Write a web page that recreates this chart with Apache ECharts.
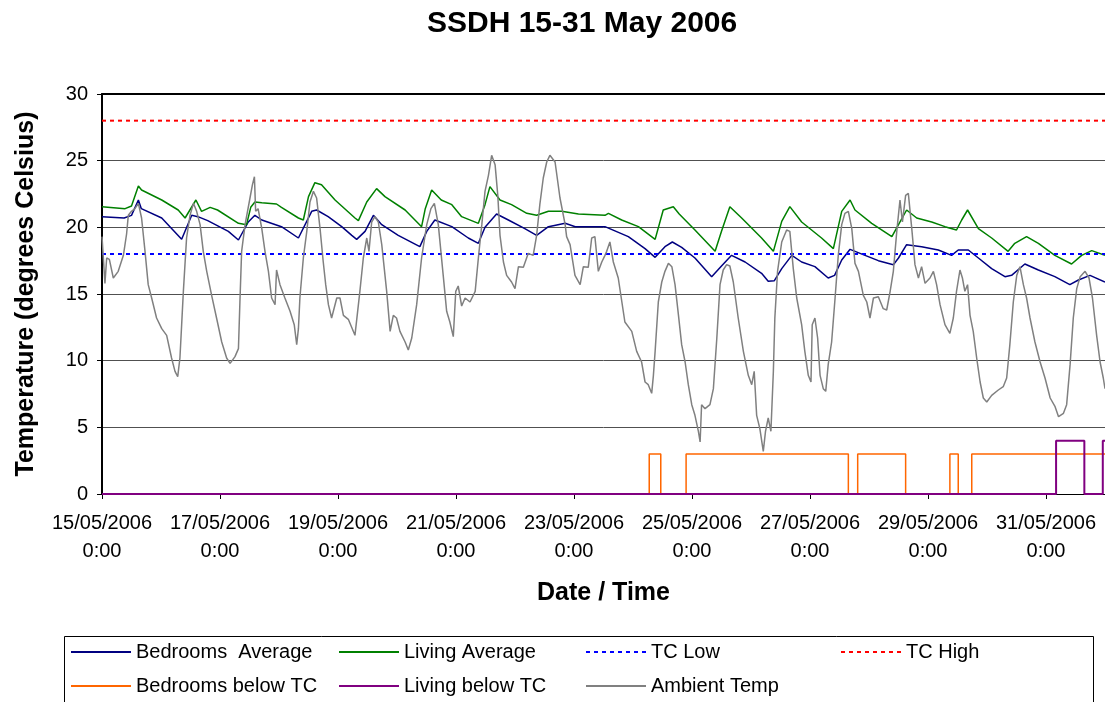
<!DOCTYPE html>
<html>
<head>
<meta charset="utf-8">
<title>SSDH 15-31 May 2006</title>
<script src="https://cdn.jsdelivr.net/npm/echarts@6/dist/echarts.min.js"></script>
<style>
  html, body { margin: 0; padding: 0; background: #fff; }
  #chart { width: 1105px; height: 702px; }
</style>
</head>
<body>
<div id="chart"></div>
<script>
// x values are hours since 15/05/2006 0:00
const FONT = "'Liberation Sans', Arial, sans-serif"

const tickLabels = [
  '15/05/2006\n0:00', '17/05/2006\n0:00', '19/05/2006\n0:00', '21/05/2006\n0:00',
  '23/05/2006\n0:00', '25/05/2006\n0:00', '27/05/2006\n0:00', '29/05/2006\n0:00',
  '31/05/2006\n0:00'
]

const tcLow = 18
const tcHigh = 28
const periodEnd = 408

const bedroomsAvg = [
  [0, 20.8], [9, 20.7], [12, 20.9], [14.8, 22.05], [16, 21.4], [24.3, 20.7], [32.4, 19.1],
  [36.5, 20.9], [39, 20.8], [43, 20.5], [51.4, 19.7], [55.5, 19.05], [59.5, 20.4], [62.2, 20.9],
  [65, 20.55], [73, 20.05], [79.9, 19.2], [85.3, 21.2], [87.3, 21.3], [92, 20.8], [97.5, 20.05],
  [101.6, 19.4], [103.6, 19.1], [107, 19.7], [110.4, 20.9], [113.8, 20.2], [120.5, 19.4],
  [129.3, 18.55], [132.1, 19.7], [135.4, 20.55], [142.3, 20.05], [149, 19.2], [153.1, 18.8],
  [155.8, 20.0], [160.5, 21.0], [165.3, 20.55], [172, 19.9], [176.8, 19.4], [181.6, 20.05],
  [188.4, 20.3], [192.5, 20.05], [204.6, 20.05], [214.1, 19.3], [220.9, 18.4], [225, 17.75],
  [229, 18.55], [232, 18.9], [235.8, 18.5], [241.2, 17.7], [248, 16.3], [252, 17.1], [256.1, 17.9],
  [261.6, 17.4], [268.3, 16.55], [271, 15.95], [273.5, 16.0], [276.5, 16.9], [280.6, 17.9],
  [284.6, 17.4], [290, 17.05], [295.4, 16.2], [298, 16.4], [300.9, 17.55], [304.3, 18.35],
  [310.4, 17.9], [315.8, 17.5], [321.9, 17.2], [324, 17.7], [327.3, 18.7], [333.4, 18.55],
  [340.2, 18.3], [345.6, 17.9], [348.3, 18.3], [352.4, 18.3], [356.5, 17.7], [361.9, 16.9],
  [367.3, 16.3], [370, 16.4], [375.4, 17.25], [380.9, 16.8], [387.6, 16.3], [393.7, 15.7],
  [397.2, 16.05], [401.9, 16.4], [408, 15.9]
]

const livingAvg = [
  [0, 21.55], [9.4, 21.4], [12, 21.6], [14.8, 23.1], [16.1, 22.8], [24.3, 22.05], [31, 21.3],
  [33.8, 20.7], [38.2, 22.05], [40.5, 21.2], [44, 21.5], [47, 21.3], [55.5, 20.3], [58.8, 20.2],
  [60.5, 21.5], [62.2, 21.9], [65, 21.85], [71, 21.75], [73, 21.5], [79.9, 20.7], [81.9, 20.55],
  [84, 22.3], [86.6, 23.35], [89.3, 23.2], [94.8, 22.05], [102.9, 20.7], [104.3, 20.5],
  [107.7, 21.9], [111.7, 22.9], [115.1, 22.3], [123.3, 21.3], [130, 20.05], [131.5, 21.4],
  [134.1, 22.8], [138, 22.05], [142.3, 21.7], [146.3, 20.8], [153.1, 20.3], [155.8, 21.7],
  [157.8, 23.05], [161.9, 22.05], [166.6, 21.7], [172.8, 21.05], [176.8, 20.9], [181.6, 21.2],
  [187, 21.2], [193.8, 21.0], [204.6, 20.9], [206, 21.05], [211.4, 20.55], [218.2, 20.05],
  [225, 19.1], [228.3, 21.3], [232.4, 21.55], [234.8, 21.0], [241.2, 19.8], [249.4, 18.2],
  [252, 19.7], [255.4, 21.55], [260.2, 20.7], [268.3, 19.2], [273.1, 18.2], [276.5, 20.45],
  [279.8, 21.55], [284.6, 20.4], [292.7, 19.2], [297.5, 18.4], [300.9, 21.2], [304.3, 22.05],
  [306.3, 21.3], [313.1, 20.3], [321.3, 19.3], [324, 20.2], [327.3, 21.3], [331.4, 20.7],
  [337.5, 20.4], [342.9, 20.05], [347.6, 19.8], [349.7, 20.55], [352.1, 21.3], [356.5, 19.9],
  [361.9, 19.2], [368.6, 18.2], [371.3, 18.8], [376.1, 19.3], [380.9, 18.8], [387.6, 17.9],
  [394.4, 17.25], [398.5, 17.9], [402.6, 18.25], [408, 17.9]
]

// on / off switching points, each value holds until the next point
const bedroomsBelow = [
  [0, 0], [222.6, 3], [227.3, 0], [237.6, 3], [303.6, 0], [307.4, 3], [326.9, 0],
  [344.9, 3], [348.3, 0], [353.8, 3], [408, 3]
]
const livingBelow = [
  [0, 0], [388.1, 4], [399.6, 0], [407.1, 4], [408, 4]
]

const ambient = [
  [0, 19.3], [1.2, 15.8], [1.9, 17.7], [3, 17.6], [4.6, 16.2], [6.6, 16.7], [8.7, 17.9], [10, 19.5],
  [10.7, 20.9], [12, 21.2], [13.4, 21.4], [14.8, 21.8], [16.1, 20.7], [17.5, 18.2], [18.8, 15.7],
  [20.2, 14.7], [22.2, 13.2], [24.3, 12.4], [26.3, 11.9], [28.3, 10.2], [29.7, 9.2], [30.8, 8.8],
  [31.7, 10.2], [32.4, 12.7], [33.1, 15.2], [34.4, 19.2], [35.8, 20.9], [37.2, 21.8], [38.5, 21.2],
  [39.9, 20.2], [41.2, 18.2], [42.6, 16.7], [44.6, 14.9], [46.6, 13.2], [48.7, 11.4], [50.7, 10.2],
  [52.1, 9.8], [54.1, 10.3], [55.5, 10.9], [56.1, 14.4], [56.8, 18.2], [58.2, 20.2], [60.2, 22.2],
  [61.2, 23.2], [62, 23.8], [62.5, 21.2], [63.5, 21.4], [65, 19.9], [66.3, 18.2], [67.7, 16.7],
  [69, 14.7], [70.4, 14.2], [71, 16.8], [72.4, 15.7], [74.4, 14.7], [76.5, 13.7], [78.2, 12.7],
  [79.2, 11.2], [79.9, 12.4], [80.5, 14.7], [81.9, 17.7], [83.3, 19.7], [84.6, 21.9], [86, 22.7],
  [87.3, 22.2], [88.7, 19.9], [90, 17.4], [91, 15.7], [92.1, 14.2], [93.4, 13.2], [95.5, 14.7],
  [96.8, 14.7], [98.2, 13.4], [100.2, 13.1], [102.9, 11.9], [104.9, 15.2], [106.3, 17.7],
  [107.7, 19.2], [108.6, 18.2], [109.7, 20.4], [111, 20.8], [112.4, 20.4], [113.8, 18.7],
  [115.8, 15.2], [117.2, 12.2], [118.5, 13.4], [119.8, 13.2], [121.2, 12.2], [123.3, 11.4],
  [124.6, 10.8], [126, 11.7], [128, 14.2], [130, 17.7], [132.1, 20.2], [133.8, 21.4], [135.2, 21.8],
  [136.8, 20.2], [138.8, 16.4], [140.2, 13.7], [141.5, 12.9], [142.9, 11.8], [143.9, 15.2],
  [144.9, 15.6], [146.3, 14.1], [147.7, 14.7], [149.7, 14.4], [151.8, 15.2], [153.1, 17.7],
  [154.5, 20.2], [155.8, 22.7], [157.2, 23.9], [158.5, 25.4], [159.9, 24.7], [161, 22.4],
  [161.9, 19.4], [163.3, 17.4], [164.6, 16.4], [166.6, 15.9], [168, 15.4], [169.4, 17.05],
  [171.4, 17.0], [173.4, 18.05], [175.4, 17.9], [176.8, 19.4], [178.1, 21.7], [179.5, 23.7],
  [180.9, 24.9], [182.2, 25.4], [184.3, 24.9], [186.3, 22.2], [188.4, 20.2], [189, 19.3],
  [190.4, 18.7], [192.4, 16.4], [194.5, 15.7], [195.8, 17.05], [197.8, 17.0], [199.2, 19.2],
  [200.5, 19.3], [201.9, 16.7], [203.3, 17.4], [204.6, 17.9], [205.3, 18.2], [206.6, 18.9],
  [208, 17.4], [210, 16.2], [212.7, 12.9], [215.5, 12.2], [217.5, 10.7], [219.5, 9.9], [220.9, 8.4],
  [222.2, 8.2], [223.6, 7.55], [224.3, 8.9], [225, 10.7], [226.3, 14.4], [227.7, 15.9], [229, 16.7],
  [230.4, 17.3], [231.8, 17.05], [233.1, 15.7], [234.5, 13.4], [235.8, 11.2], [237.2, 9.9],
  [238.5, 8.2], [239.9, 6.7], [241.2, 5.9], [242.6, 4.7], [243.3, 3.9], [243.9, 6.7], [245.3, 6.4],
  [247.3, 6.7], [248.7, 7.9], [250.1, 11.7], [251.4, 15.7], [252.7, 16.8], [254.1, 17.2],
  [255.4, 17.1], [256.8, 15.9], [258.8, 13.2], [260.9, 10.7], [262.9, 8.9], [264.3, 8.2],
  [265.3, 9.2], [266.3, 5.9], [267.6, 4.9], [269, 3.2], [269.9, 4.7], [271, 5.7], [272.1, 4.7],
  [273.1, 9.2], [273.7, 13.2], [274.8, 16.7], [276.5, 18.9], [278.5, 19.8], [279.8, 19.7],
  [281.2, 16.9], [282.6, 14.7], [284.6, 12.7], [285.9, 10.7], [287.3, 8.9], [288.4, 8.4],
  [288.9, 12.7], [290, 13.2], [291.1, 11.7], [292.1, 8.9], [293.4, 7.9], [294.4, 7.7], [295.4, 9.7],
  [296.8, 11.4], [298.2, 14.7], [299.5, 17.9], [300.9, 20.2], [302.2, 21.05], [303.6, 21.2],
  [305, 19.9], [306.3, 17.3], [307.7, 16.7], [309.7, 14.9], [311.1, 14.4], [312.4, 13.2],
  [313.8, 14.7], [315.8, 14.8], [317.8, 13.9], [319.2, 13.8], [320.6, 15.2], [321.9, 16.7],
  [323.3, 19.7], [324.6, 22.05], [325.6, 20.4], [326.9, 22.4], [328, 22.55], [329.4, 19.9],
  [330.7, 17.2], [332.1, 16.2], [333.4, 17.05], [334.8, 15.8], [336.8, 16.2], [338.2, 16.7],
  [339.5, 15.7], [340.9, 14.2], [342.9, 12.7], [344.9, 12.05], [346.3, 13.2], [347.6, 15.2],
  [349, 16.8], [350, 16.2], [351, 15.2], [352.1, 15.7], [353.1, 13.4], [354.4, 12.2], [355.8, 10.2],
  [357.2, 8.4], [358.5, 7.2], [359.9, 6.9], [361.9, 7.4], [364.6, 7.8], [366.6, 8.05], [368, 8.7],
  [369.3, 11.2], [370.7, 14.4], [372.1, 16.4], [373.4, 17.05], [374.8, 15.7], [376.1, 14.7],
  [377.5, 13.2], [379.5, 11.4], [381.6, 9.9], [383.6, 8.7], [385.7, 7.2], [387.7, 6.55],
  [389.1, 5.8], [391.1, 6.05], [392.4, 6.7], [393.8, 9.7], [395.1, 13.2], [396.5, 15.4],
  [397.9, 16.3], [399.9, 16.7], [401.5, 16.2], [402.9, 14.7], [404.6, 11.9], [406, 9.9],
  [407.3, 8.7], [408, 7.9]
]

const chart = echarts.init(document.getElementById('chart'))

const lineSeries = (name, data, color, extra) => Object.assign({
  name: name,
  type: 'line',
  data: data,
  symbol: 'none',
  lineStyle: { color: color, width: 1.5 },
  itemStyle: { color: color }
}, extra)

const legendBase = {
  orient: 'vertical',
  top: 642,
  padding: 0,
  itemWidth: 60,
  itemHeight: 20,
  itemGap: 14,
  selectedMode: false,
  // hide the marker dot, keep only the line sample
  itemStyle: { opacity: 0, borderWidth: 0 },
  textStyle: { fontSize: 20, fontFamily: FONT, color: '#000', lineHeight: 20 }
}

const option = {
  animation: false,
  backgroundColor: '#fff',
  textStyle: { fontFamily: FONT },
  title: {
    text: 'SSDH 15-31 May 2006',
    left: 427,
    top: 9,
    padding: 0,
    textStyle: { fontSize: 30, fontWeight: 'bold', fontFamily: FONT, color: '#000' }
  },
  grid: { left: 102, top: 94, right: 0, bottom: 208 },
  legend: [
    Object.assign({}, legendBase, { left: 70, data: ['Bedrooms  Average', 'Bedrooms below TC'] }),
    Object.assign({}, legendBase, { left: 338, data: ['Living Average', 'Living below TC'] }),
    Object.assign({}, legendBase, { left: 585, data: ['TC Low', 'Ambient Temp'] }),
    Object.assign({}, legendBase, { left: 840, data: ['TC High'] })
  ],
  graphic: [{
    type: 'rect',
    shape: { x: 64.5, y: 636.5, width: 1029, height: 80 },
    style: { fill: 'none', stroke: '#000', lineWidth: 1 }
  }],
  xAxis: [{
    type: 'value',
    min: 0,
    max: periodEnd,
    interval: 48,
    name: 'Date / Time',
    nameLocation: 'middle',
    nameGap: 87,
    nameTextStyle: { fontSize: 25, fontWeight: 'bold', color: '#000', fontFamily: FONT },
    axisLine: { lineStyle: { color: '#000', width: 1 } },
    axisTick: { length: 5, lineStyle: { color: '#000' } },
    axisLabel: {
      fontSize: 20,
      lineHeight: 28,
      margin: 15,
      color: '#000',
      showMaxLabel: false,
      formatter: v => tickLabels[v / 48] || ''
    },
    splitLine: { show: false }
  }, {
    // top edge of the plot area
    type: 'value',
    position: 'top',
    min: 0,
    max: periodEnd,
    axisLine: { show: true, lineStyle: { color: '#000', width: 2 } },
    axisTick: { show: false },
    axisLabel: { show: false },
    splitLine: { show: false }
  }],
  yAxis: {
    type: 'value',
    min: 0,
    max: 30,
    interval: 5,
    name: 'Temperature (degrees Celsius)',
    nameLocation: 'middle',
    nameGap: 63,
    nameTextStyle: { fontSize: 25, fontWeight: 'bold', color: '#000', fontFamily: FONT },
    axisLine: { show: true, lineStyle: { color: '#000', width: 2 } },
    axisTick: { show: true, length: 5, lineStyle: { color: '#000' } },
    axisLabel: { fontSize: 20, margin: 14, color: '#000' },
    splitLine: { lineStyle: { color: '#505050', width: 1 } }
  },
  series: [
    lineSeries('Bedrooms  Average', bedroomsAvg, '#000080'),
    lineSeries('Living Average', livingAvg, '#008000'),
    lineSeries('TC Low', [[0, tcLow], [periodEnd, tcLow]], '#0000ff',
      { lineStyle: { color: '#0000ff', width: 2, type: [4, 4] } }),
    lineSeries('TC High', [[0, tcHigh], [periodEnd, tcHigh]], '#ff0000',
      { lineStyle: { color: '#ff0000', width: 2, type: [4, 4] } }),
    lineSeries('Bedrooms below TC', bedroomsBelow, '#ff6600', { step: 'end' }),
    lineSeries('Living below TC', livingBelow, '#800080', { step: 'end', lineStyle: { color: '#800080', width: 2 } }),
    lineSeries('Ambient Temp', ambient, '#808080')
  ]
}

chart.setOption(option)
</script>
</body>
</html>
